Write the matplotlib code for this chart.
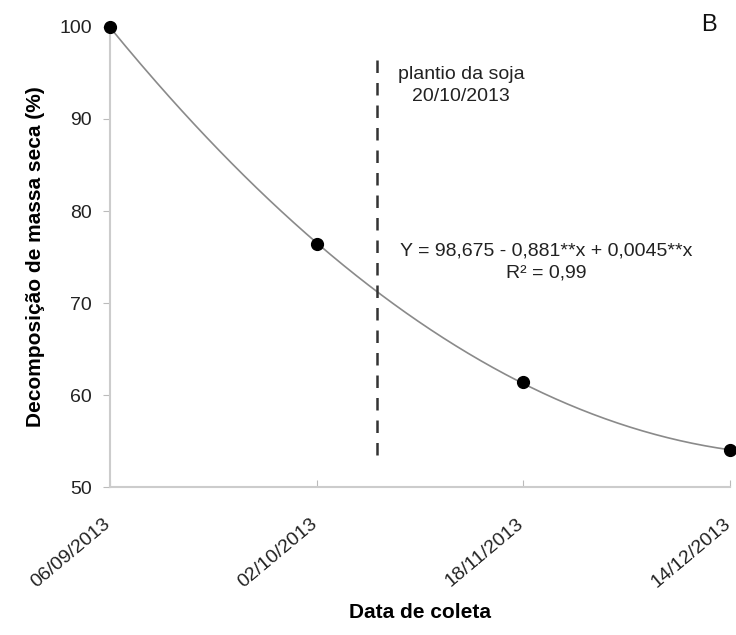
import numpy as np
import matplotlib
matplotlib.use("Agg")
import matplotlib.pyplot as plt
import matplotlib.transforms as mtransforms

dates = ["06/09/2013", "02/10/2013", "18/11/2013", "14/12/2013"]
values = [100, 76.4, 61.4, 54.0]
planting_pos = 1.29
planting_range = [53.5, 97.2]

plt.rcParams['font.family'] = ["Liberation Sans", "DejaVu Sans"]

fig = plt.figure(figsize=(7.36, 6.35), dpi=100)
ax = fig.add_axes([0.1495, 0.233, 0.842, 0.7245])

x = np.arange(len(values))
coef = np.polyfit(x, values, 2)
xs = np.linspace(0, 3, 200)
ax.plot(xs, np.polyval(coef, xs), color="#8a8a8a", lw=1.2, clip_on=False, zorder=2)
ax.plot(x, values, "o", color="black", ms=8.5, clip_on=False, zorder=3)
ax.vlines(planting_pos, planting_range[0], planting_range[1], colors="#333333",
          linestyles=(0, (5, 4)), lw=1.8)

ax.set_xlim(0, 3)
ax.set_ylim(50, 100)
ax.set_yticks(range(50, 101, 10))
ax.set_xticks(x)
ax.set_xticklabels(dates, rotation=40, ha="right", rotation_mode="anchor", fontsize=14, color="#222222")
ax.tick_params(axis="y", labelsize=14, colors="#222222", length=5, color="#bbbbbb", pad=8)
ax.tick_params(axis="x", direction="in", length=5, color="#bbbbbb", pad=20)
offset = mtransforms.ScaledTranslation(-7 / 100, 0, fig.dpi_scale_trans)
for lab in ax.get_xticklabels():
    lab.set_transform(lab.get_transform() + offset)
for s in ["top", "right"]:
    ax.spines[s].set_visible(False)
for s in ["left", "bottom"]:
    ax.spines[s].set_color("#cccccc")
    ax.spines[s].set_linewidth(1.5)

ax.set_ylabel("Decomposição de massa seca (%)", fontsize=15, fontweight="bold", labelpad=10)
ax.set_xlabel("Data de coleta", fontsize=15, fontweight="bold", labelpad=9)

ax.text(1.70, 93.6, "plantio da soja\n20/10/2013", ha="center", va="center", fontsize=14, color="#222222", linespacing=1.4)
ax.text(2.113, 74.5, "Y = 98,675 - 0,881**x + 0,0045**x\nR² = 0,99", ha="center", va="center", fontsize=14, color="#222222", linespacing=1.4)
ax.text(2.90, 100.2, "B", ha="center", va="center", fontsize=17, color="#111111")

fig.savefig("out.png", dpi=100)
